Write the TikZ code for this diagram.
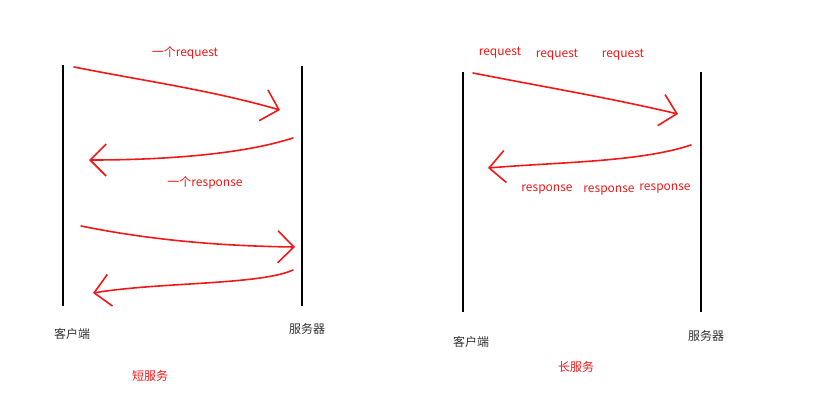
\documentclass[tikz,border=0pt]{standalone}
\usepackage{fontspec}
\setmainfont{Noto Sans CJK SC}
\usetikzlibrary{arrows.meta}
\definecolor{inkred}{HTML}{F01818}
\definecolor{inkgray}{HTML}{333333}

\begin{document}
\begin{tikzpicture}[x=1pt, y=-1pt,
      lifeline/.style={draw=black, line width=2.8pt},
      msg/.style={draw=inkred, line width=1.6pt, line cap=round,
                  -{Straight Barb[length=16pt, width=32pt, line width=1.6pt]}},
      lbl/.style={text=inkred, font=\fontsize{12}{14}\selectfont, inner sep=1pt},
      role/.style={text=inkgray, font=\fontsize{12}{14}\selectfont, inner sep=1pt}]
      \useasboundingbox (0,0) rectangle (831,416);
      % short service
      \coordinate (c1top) at (63,65);  \coordinate (c1bot) at (63,306);
      \coordinate (s1top) at (302,66); \coordinate (s1bot) at (302,306);
      \draw[lifeline] (c1top) -- (c1bot);
      \draw[lifeline] (s1top) -- (s1bot);
      \coordinate (a1) at (74,67);   \coordinate (b1) at (280,110);
      \coordinate (a2) at (293,138); \coordinate (b2) at (89,160);
      \coordinate (a3) at (81,226);  \coordinate (b3) at (295,247);
      \coordinate (a4) at (293,270); \coordinate (b4) at (93,293);
      \draw[msg] (a1) .. controls (150,82) and (210,90) .. (b1);
      \draw[msg] (a2) .. controls (240,155) and (160,160) .. (b2);
      \draw[msg] (a3) .. controls (150,240) and (220,246) .. (b3);
      \draw[msg] (a4) .. controls (260,285) and (160,282) .. (b4);
      \node[lbl] (req1) at (185,53) {一个request};
      \node[lbl] (resp1) at (205,183) {一个response};
      \node[role] (client1) at (72,334) {客户端};
      \node[role] (server1) at (307,329) {服务器};
      \node[lbl] (short) at (150,376) {短服务};
      % long service
      \coordinate (c2top) at (463,72);  \coordinate (c2bot) at (463,312);
      \coordinate (s2top) at (701,72);  \coordinate (s2bot) at (701,312);
      \draw[lifeline] (c2top) -- (c2bot);
      \draw[lifeline] (s2top) -- (s2bot);
      \coordinate (a5) at (473,73);  \coordinate (b5) at (678,114);
      \coordinate (a6) at (691,145); \coordinate (b6) at (488,168);
      \draw[msg] (a5) .. controls (550,88) and (610,98) .. (b5);
      \draw[msg] (a6) .. controls (640,162) and (560,162) .. (b6);
      \node[lbl] (req2a) at (500,53) {request};
      \node[lbl] (req2b) at (557,55) {request};
      \node[lbl] (req2c) at (623,55) {request};
      \node[lbl] (resp2a) at (547,190) {response};
      \node[lbl] (resp2b) at (609,191) {response};
      \node[lbl] (resp2c) at (665,189) {response};
      \node[role] (client2) at (471,342) {客户端};
      \node[role] (server2) at (706,336) {服务器};
      \node[lbl] (long) at (576,367) {长服务};
    \end{tikzpicture}
\end{document}
